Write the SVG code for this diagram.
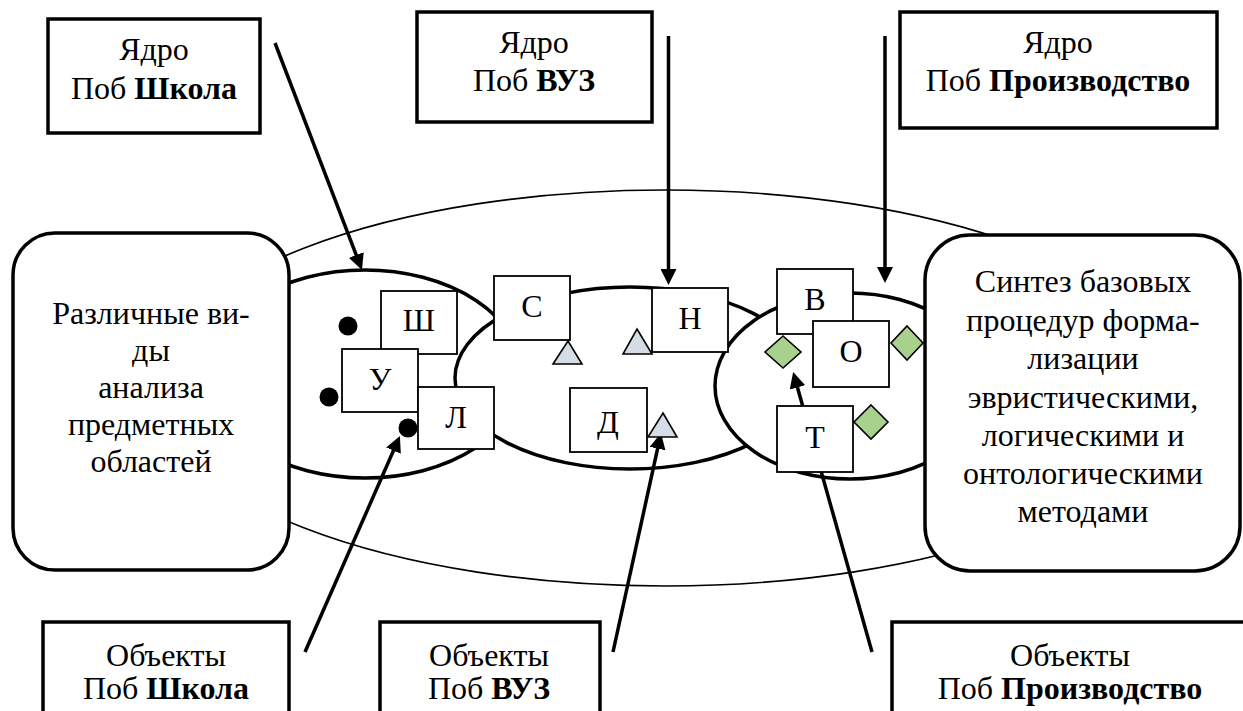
<svg xmlns="http://www.w3.org/2000/svg" width="1243" height="711" viewBox="0 0 1243 711">
<style>
text{font-family:Liberation Serif,DejaVu Serif,Times New Roman,serif;fill:#000;text-anchor:middle;font-size:32px}
.b{font-weight:bold}
.box{fill:#fff;stroke:#000;stroke-width:3.5}
.rbox{fill:#fff;stroke:#000;stroke-width:3.5}
.sbox{fill:#fff;stroke:#000;stroke-width:1.8}
.ell{fill:#fff;stroke:#000;stroke-width:3.5}
.outer{fill:none;stroke:#000;stroke-width:1.6}
.arr{stroke:#000;stroke-width:3.5;fill:none;marker-end:url(#ah)}
.dot{fill:#000}
.tri{fill:#d6dce5;stroke:#000;stroke-width:1.6}
.dia{fill:#a9d18e;stroke:#000;stroke-width:1.6}
</style>
<defs>
<marker id="ah" markerUnits="userSpaceOnUse" markerWidth="17" markerHeight="16" refX="8" refY="8" orient="auto">
<path d="M0,0 L16,8 L0,16 z" fill="#000"/>
</marker>
</defs>
<rect width="1243" height="711" fill="#fff"/>
<g id="outer-ellipse"><ellipse class="outer" cx="665" cy="388" rx="510" ry="198"/></g>
<g id="ellipse-school"><ellipse class="ell" cx="365" cy="374" rx="157" ry="104"/></g>
<g id="ellipse-vuz"><ellipse class="ell" cx="630" cy="378" rx="175" ry="91"/></g>
<g id="ellipse-prod"><ellipse class="ell" cx="850" cy="386" rx="135" ry="93"/></g>
<g id="connectors">
<line class="arr" x1="275" y1="43" x2="359.1" y2="262.5"/>
<line class="arr" x1="668.5" y1="36" x2="668.5" y2="277"/>
<line class="arr" x1="885" y1="36" x2="885" y2="275"/>
<line class="arr" x1="305" y1="652" x2="396.7" y2="443.3"/>
<line class="arr" x1="613" y1="652" x2="659.3" y2="440.8"/>
<line class="arr" x1="872" y1="652" x2="795.3" y2="379.7"/>
</g>
<g id="dots">
<circle class="dot" cx="348" cy="326" r="9.5"/>
<circle class="dot" cx="329" cy="397" r="9.5"/>
<circle class="dot" cx="408" cy="428" r="9.5"/>
</g>
<g id="node-sh"><rect class="sbox" x="381" y="291" width="76" height="63"/><text x="419" y="331">Ш</text></g>
<g id="node-u"><rect class="sbox" x="342" y="349" width="76" height="63"/><text x="380" y="390">У</text></g>
<g id="node-l"><rect class="sbox" x="418" y="387" width="76" height="62"/><text x="456" y="428">Л</text></g>
<g id="triangles">
<polygon class="tri" points="568,341 582,364 553,364"/>
<polygon class="tri" points="637,329 652,354 623,354"/>
<polygon class="tri" points="663,413 677,437 648,437"/>
</g>
<g id="node-s"><rect class="sbox" x="494" y="276" width="76" height="64"/><text x="532" y="317">С</text></g>
<g id="node-n"><rect class="sbox" x="652" y="288" width="76" height="64"/><text x="690" y="329">Н</text></g>
<g id="node-d"><rect class="sbox" x="570" y="388" width="77" height="64"/><text x="608" y="433">Д</text></g>
<g id="node-v"><rect class="sbox" x="777" y="269" width="76" height="65"/><text x="815" y="310">В</text></g>
<g id="node-o"><rect class="sbox" x="813" y="321" width="76" height="66"/><text x="851" y="362">О</text></g>
<g id="node-t"><rect class="sbox" x="777" y="406" width="76" height="66"/><text x="815" y="448">Т</text></g>
<g id="diamonds">
<polygon class="dia" points="783,336 801,352 783,368 765,352"/>
<polygon class="dia" points="907,326 923,343 907,360 891,343"/>
<polygon class="dia" points="871,405 888,422 871,439 854,422"/>
</g>
<g id="node-analysis">
<rect class="rbox" x="13" y="233" width="276" height="337" rx="42"/>
<text x="151" y="324">Различные ви-</text>
<text x="151" y="361">ды</text>
<text x="151" y="398">анализа</text>
<text x="151" y="435">предметных</text>
<text x="151" y="472">областей</text>
</g>
<g id="node-synthesis">
<rect class="rbox" x="925" y="235" width="315" height="336" rx="45"/>
<text x="1083" y="292">Синтез базовых</text>
<text x="1083" y="331">процедур форма-</text>
<text x="1083" y="369">лизации</text>
<text x="1083" y="408">эвристическими,</text>
<text x="1083" y="446">логическими и</text>
<text x="1083" y="484">онтологическими</text>
<text x="1083" y="522">методами</text>
</g>
<g id="node-core-school">
<rect class="box" x="48" y="19" width="212" height="114"/>
<text x="154" y="60">Ядро</text>
<text x="154" y="99">Поб <tspan class="b">Школа</tspan></text>
</g>
<g id="node-core-vuz">
<rect class="box" x="417" y="12" width="235" height="110"/>
<text x="534" y="53">Ядро</text>
<text x="534" y="91">Поб <tspan class="b">ВУЗ</tspan></text>
</g>
<g id="node-core-prod">
<rect class="box" x="900" y="12" width="317" height="116"/>
<text x="1058" y="53">Ядро</text>
<text x="1058" y="91">Поб <tspan class="b">Производство</tspan></text>
</g>
<g id="node-obj-school">
<rect class="box" x="43" y="622" width="246" height="110"/>
<text x="166" y="666">Объекты</text>
<text x="166" y="699">Поб <tspan class="b">Школа</tspan></text>
</g>
<g id="node-obj-vuz">
<rect class="box" x="380" y="622" width="220" height="110"/>
<text x="489" y="666">Объекты</text>
<text x="489" y="699">Поб <tspan class="b">ВУЗ</tspan></text>
</g>
<g id="node-obj-prod">
<rect class="box" x="892" y="622" width="360" height="110"/>
<text x="1070" y="666">Объекты</text>
<text x="1070" y="699">Поб <tspan class="b">Производство</tspan></text>
</g>
</svg>
